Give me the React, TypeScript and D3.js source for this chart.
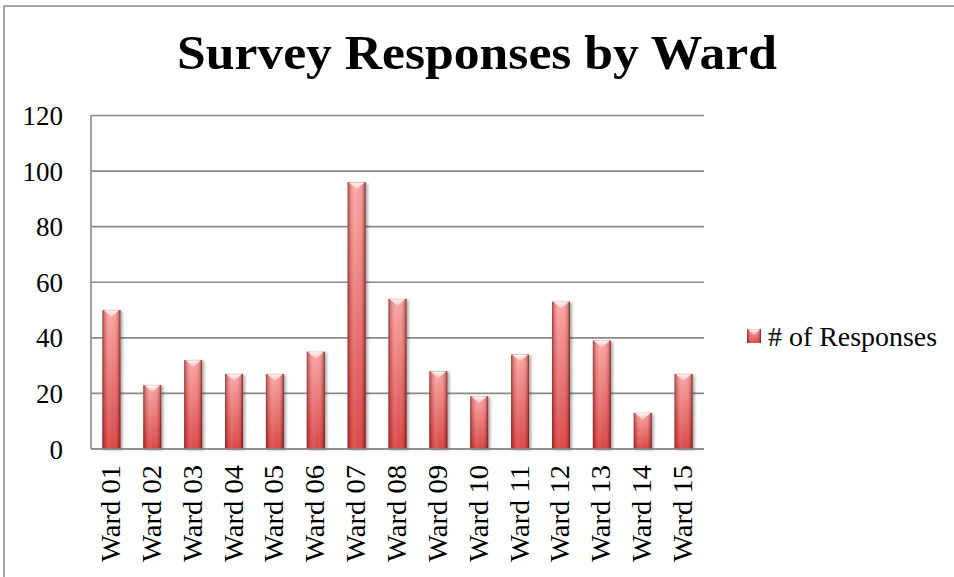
import React from "react";
import * as d3 from "d3";

const title = "Survey Responses by Ward";
const seriesName = "# of Responses";
const wards = [
  "Ward 01", "Ward 02", "Ward 03", "Ward 04", "Ward 05",
  "Ward 06", "Ward 07", "Ward 08", "Ward 09", "Ward 10",
  "Ward 11", "Ward 12", "Ward 13", "Ward 14", "Ward 15",
];
const responses = [50, 23, 32, 27, 27, 35, 96, 54, 28, 19, 34, 53, 39, 13, 27];
const yTicks = [0, 20, 40, 60, 80, 100, 120];

const W = 954;
const H = 577;
const plot = { left: 91, right: 704, top: 115.5, bottom: 449 };
const font = "'Liberation Serif', 'Times New Roman', serif";
const grid = "#8a8a8a";

export default function App() {
  const x = d3
    .scaleBand<string>()
    .domain(wards)
    .range([plot.left, plot.right])
    .paddingInner(0.56)
    .paddingOuter(0.28);
  const y = d3.scaleLinear().domain([0, 120]).range([plot.bottom, plot.top]);
  const bw = x.bandwidth();

  return (
    <svg
      width={W}
      height={H}
      style={{ position: "absolute", left: 0, top: 0, background: "#fff" }}
    >
      <defs>
        <linearGradient id="vgrad" x1="0" y1="0" x2="0" y2="1">
          <stop offset="0" stopColor="#f9a1a0" />
          <stop offset="1" stopColor="#d83c3b" />
        </linearGradient>
        <linearGradient id="hgrad" x1="0" y1="0" x2="1" y2="0">
          <stop offset="0" stopColor="#6e1a18" stopOpacity="0.75" />
          <stop offset="0.12" stopColor="#8f2826" stopOpacity="0.3" />
          <stop offset="0.4" stopColor="#ffffff" stopOpacity="0.12" />
          <stop offset="0.6" stopColor="#ffffff" stopOpacity="0.05" />
          <stop offset="0.88" stopColor="#8f2826" stopOpacity="0.3" />
          <stop offset="1" stopColor="#4e1010" stopOpacity="0.85" />
        </linearGradient>
        <linearGradient id="bevel" x1="0" y1="0" x2="0" y2="1">
          <stop offset="0" stopColor="#ffffff" stopOpacity="0.95" />
          <stop offset="1" stopColor="#fbd0cf" stopOpacity="0.6" />
        </linearGradient>
        <filter id="shadow" x="-30%" y="-10%" width="160%" height="120%">
          <feGaussianBlur in="SourceAlpha" stdDeviation="1.6" />
          <feOffset dx="1.5" dy="0.5" result="b" />
          <feComponentTransfer>
            <feFuncA type="linear" slope="0.35" />
          </feComponentTransfer>
          <feMerge>
            <feMergeNode />
            <feMergeNode in="SourceGraphic" />
          </feMerge>
        </filter>
      </defs>

      {/* outer chart border */}
      <rect x={4} y={6} width={1200} height={1200} fill="none" stroke={grid} strokeWidth={1.5} />

      {/* title */}
      <text
        x={477}
        y={69}
        textAnchor="middle"
        fontFamily={font}
        fontWeight="bold"
        fontSize={48}
        textLength={600}
        lengthAdjust="spacingAndGlyphs"
        fill="#000"
      >
        {title}
      </text>

      {/* gridlines */}
      {yTicks.map((t) => (
        <line
          key={t}
          x1={plot.left}
          x2={plot.right}
          y1={y(t)}
          y2={y(t)}
          stroke={grid}
          strokeWidth={1.6}
        />
      ))}
      <line x1={plot.left} x2={plot.left} y1={plot.top} y2={plot.bottom} stroke={grid} strokeWidth={1.6} />

      {/* y tick labels */}
      {yTicks.map((t) => (
        <text
          key={"l" + t}
          x={63}
          y={y(t) + 9.5}
          textAnchor="end"
          fontFamily={font}
          fontSize={27}
          fill="#000"
        >
          {t}
        </text>
      ))}

      {/* bars */}
      {wards.map((w, i) => {
        const x0 = x(w)!;
        const y0 = y(responses[i]);
        const h = plot.bottom - y0;
        const bev = Math.min(7, h / 2);
        return (
          <g key={w}>
            <g filter="url(#shadow)">
              <rect x={x0} y={y0} width={bw} height={h} fill="url(#vgrad)" />
            </g>
            <rect x={x0} y={y0} width={bw} height={h} fill="url(#hgrad)" />
            <path
              d={`M${x0 + 1.5},${y0 + 0.5} L${x0 + bw - 1.5},${y0 + 0.5} L${x0 + bw / 2},${y0 + bev} Z`}
              fill="url(#bevel)"
            />
          </g>
        );
      })}

      {/* bottom axis line on top */}
      <line x1={plot.left} x2={plot.right} y1={plot.bottom} y2={plot.bottom} stroke={grid} strokeWidth={1.6} />

      {/* x labels */}
      {wards.map((w) => {
        const cx = x(w)! + bw / 2;
        const ty = 465;
        return (
          <text
            key={"x" + w}
            transform={`translate(${cx + 8.5},${ty}) rotate(-90)`}
            textAnchor="end"
            fontFamily={font}
            fontSize={27}
            textLength={97}
            lengthAdjust="spacingAndGlyphs"
            fill="#000"
          >
            {w}
          </text>
        );
      })}

      {/* legend */}
      <g>
        <rect x={747} y={329} width={14} height={14} fill="url(#vgrad)" />
        <rect x={747} y={329} width={14} height={14} fill="url(#hgrad)" />
        <path d="M748,329.5 L760,329.5 L754,335 Z" fill="url(#bevel)" />
        <text
          x={768}
          y={346}
          fontFamily={font}
          fontSize={27}
          textLength={169}
          lengthAdjust="spacingAndGlyphs"
          fill="#000"
        >
          {seriesName}
        </text>
      </g>
    </svg>
  );
}
